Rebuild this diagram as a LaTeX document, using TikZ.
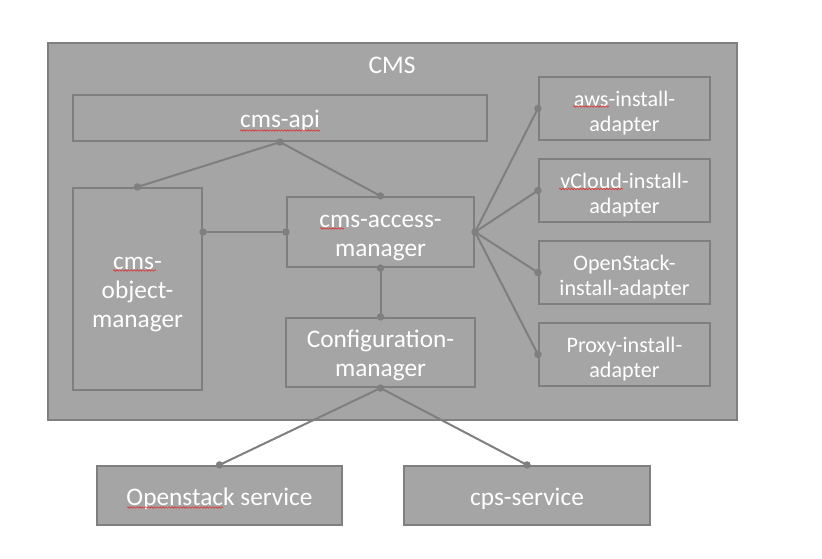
\documentclass[tikz,border=0pt]{standalone}
\usepackage{fontspec}
\setmainfont{Carlito}
\usetikzlibrary{decorations.pathmorphing}
\definecolor{boxfill}{HTML}{A5A5A5}
\definecolor{boxline}{HTML}{7F7F7F}
\definecolor{spell}{HTML}{E03030}
\tikzset{
  box/.style={draw=boxline, fill=boxfill, line width=1.6pt, inner sep=0pt},
  lbl/.style={text=white, align=center, inner sep=0pt, yshift=-2.4pt,
    font=\fontsize{19}{21.8}\selectfont},
  smalllbl/.style={lbl, font=\fontsize{16.6}{18.9}\selectfont},
  link/.style={draw=boxline, line width=1.5pt},
  dotend/.style={fill=boxline, draw=none},
  squig/.style={draw=spell, line width=0.45pt, decorate,
    decoration={snake, segment length=2.2pt, amplitude=0.55pt}}
}
\newcommand{\jointdot}[1]{\fill[dotend] (#1) circle (2.8pt);}
\begin{document}
\begin{tikzpicture}[x=0.75pt, y=-0.75pt]
\useasboundingbox (0,0) rectangle (822,559);
\fill[white] (0,0) rectangle (822,559);
% outer CMS box
\node[box, minimum width=516.75pt, minimum height=282.75pt] (cms) at (392.5,231.5) {};
\node[lbl] (cmslabel) at (392,62) {CMS};
% inner boxes
\node[box, minimum width=310.5pt, minimum height=34.5pt] (api) at (280,118) {};
\node[box, minimum width=96.75pt, minimum height=151.5pt] (obj) at (137.5,289) {};
\node[box, minimum width=140.25pt, minimum height=52.5pt] (acc) at (380.5,232) {};
\node[box, minimum width=141.75pt, minimum height=51.75pt] (conf) at (380.5,352.5) {};
\node[box, minimum width=128.25pt, minimum height=47.25pt] (aws) at (624.5,108.5) {};
\node[box, minimum width=128.25pt, minimum height=47.25pt] (vcl) at (624.5,190.5) {};
\node[box, minimum width=128.25pt, minimum height=47.25pt] (ost) at (624.5,272.5) {};
\node[box, minimum width=128.25pt, minimum height=47.25pt] (prx) at (624.5,354.5) {};
\node[box, minimum width=183.75pt, minimum height=44.25pt] (oss) at (219.5,495.5) {};
\node[box, minimum width=184.5pt, minimum height=44.25pt] (cps) at (527,495.5) {};
% labels
\node[lbl] (apiT) at (api.center) {cms-api};
\node[lbl] (objT) at ([yshift=-1.8pt]obj.center) {cms-\\object-\\manager};
\node[lbl] (accT) at ([yshift=-1.8pt]acc.center) {cms-access-\\manager};
\node[lbl] (confT) at (conf.center) {Configuration-\\manager};
\node[smalllbl] (awsT) at ([yshift=-0.8pt]aws.center) {aws-install-\\adapter};
\node[smalllbl] (vclT) at ([yshift=-0.8pt]vcl.center) {vCloud-install-\\adapter};
\node[smalllbl] (ostT) at ([yshift=-0.8pt]ost.center) {OpenStack-\\install-adapter};
\node[smalllbl] (prxT) at ([yshift=-0.8pt]prx.center) {Proxy-install-\\adapter};
\node[lbl] (ossT) at (oss.center) {Openstack service};
\node[lbl] (cpsT) at (cps.center) {cps-service};
% connectors
\coordinate (objR) at (obj.east |- acc.west);
\draw[link] (api.south) -- (obj.north);
\draw[link] (api.south) -- (acc.north);
\draw[link] (objR) -- (acc.west);
\draw[link] (acc.south) -- (conf.north);
\draw[link] (acc.east) -- (aws.west);
\draw[link] (acc.east) -- (vcl.west);
\draw[link] (acc.east) -- (ost.west);
\draw[link] (acc.east) -- (prx.west);
\draw[link] (conf.south) -- (oss.north);
\draw[link] (conf.south) -- (cps.north);
% joint dots
\jointdot{api.south}
\jointdot{obj.north}
\jointdot{acc.north}
\jointdot{objR}
\jointdot{acc.west}
\jointdot{acc.south}
\jointdot{conf.north}
\jointdot{acc.east}
\jointdot{aws.west}
\jointdot{vcl.west}
\jointdot{ost.west}
\jointdot{prx.west}
\jointdot{conf.south}
\jointdot{oss.north}
\jointdot{cps.north}
% spell-check underlines
\draw[squig] (240,130.5) -- (320,130.5);
\draw[squig] (320,228.5) -- (344,228.5);
\draw[squig] (113,270.5) -- (156,270.5);
\draw[squig] (573,106.5) -- (609,106.5);
\draw[squig] (559,189) -- (623,189);
\draw[squig] (127,507.5) -- (223,507.5);
\end{tikzpicture}
\end{document}
